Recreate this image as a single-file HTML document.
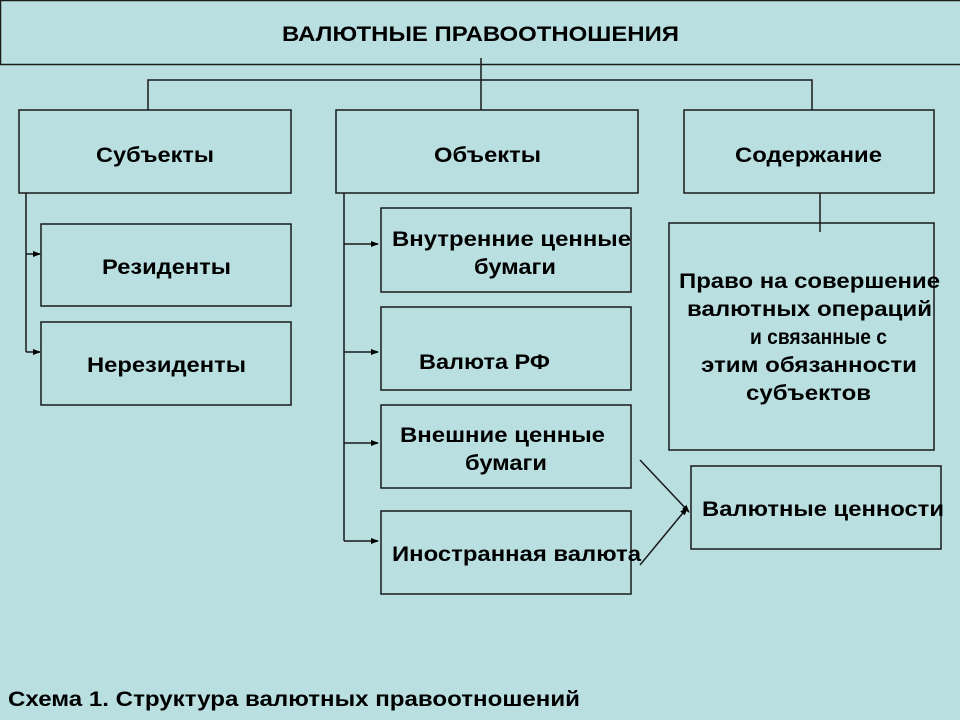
<!DOCTYPE html>
<html><head><meta charset="utf-8"><style>
html,body{margin:0;padding:0;background:#b9dfe0;}
svg{display:block}
text{font-family:"Liberation Sans",Arial,sans-serif;font-weight:bold;fill:#000;}
</style></head><body>
<svg width="960" height="720" viewBox="0 0 960 720" xmlns="http://www.w3.org/2000/svg">
<defs><marker id="a" markerWidth="8" markerHeight="8" refX="7" refY="4" orient="auto" markerUnits="userSpaceOnUse"><path d="M0,1 L8,4 L0,7 z" fill="#000"/></marker></defs>
<rect width="960" height="720" fill="#b9dfe0"/>
<g fill="none" stroke="#1a1a1a" stroke-width="1.5">
<rect x="0.5" y="0.5" width="962" height="64"/>
<path d="M481 58 V110 M148 110 V80 H812 V110"/>
<rect x="19" y="110" width="272" height="83"/>
<rect x="336" y="110" width="302" height="83"/>
<rect x="684" y="110" width="250" height="83"/>
<rect x="41" y="224" width="250" height="82"/>
<rect x="41" y="322" width="250" height="83"/>
<path d="M26 193 V352"/>
<path d="M26 254 H40" marker-end="url(#a)"/>
<path d="M26 352 H40" marker-end="url(#a)"/>
<path d="M344 193 V541"/>
<path d="M344 244 H378" marker-end="url(#a)"/>
<path d="M344 352 H378" marker-end="url(#a)"/>
<path d="M344 443 H378" marker-end="url(#a)"/>
<path d="M344 541 H378" marker-end="url(#a)"/>
<rect x="381" y="208" width="250" height="84"/>
<rect x="381" y="307" width="250" height="83"/>
<rect x="381" y="405" width="250" height="83"/>
<rect x="381" y="511" width="250" height="83"/>
<path d="M820 193 V232"/>
<rect x="669" y="223" width="265" height="227"/>
<rect x="691" y="466" width="250" height="83"/>
<path d="M640 460 L689 512" marker-end="url(#a)"/>
<path d="M640 565 L687 508" marker-end="url(#a)"/>
</g>
<g font-size="21" lengthAdjust="spacingAndGlyphs">
<text x="282" y="41" textLength="397" lengthAdjust="spacingAndGlyphs">ВАЛЮТНЫЕ ПРАВООТНОШЕНИЯ</text>
<text x="96" y="162" textLength="118" lengthAdjust="spacingAndGlyphs">Субъекты</text>
<text x="434" y="162" textLength="107" lengthAdjust="spacingAndGlyphs">Объекты</text>
<text x="735" y="162" textLength="147" lengthAdjust="spacingAndGlyphs">Содержание</text>
<text x="102" y="274" textLength="129" lengthAdjust="spacingAndGlyphs">Резиденты</text>
<text x="87" y="372" textLength="159" lengthAdjust="spacingAndGlyphs">Нерезиденты</text>
<text x="392" y="246" textLength="239" lengthAdjust="spacingAndGlyphs">Внутренние ценные</text>
<text x="474" y="274" textLength="82" lengthAdjust="spacingAndGlyphs">бумаги</text>
<text x="419" y="369" textLength="131" lengthAdjust="spacingAndGlyphs">Валюта РФ</text>
<text x="400" y="442" textLength="205" lengthAdjust="spacingAndGlyphs">Внешние ценные</text>
<text x="465" y="470" textLength="82" lengthAdjust="spacingAndGlyphs">бумаги</text>
<text x="392" y="561" textLength="249" lengthAdjust="spacingAndGlyphs">Иностранная валюта</text>
<text x="679" y="288" textLength="261" lengthAdjust="spacingAndGlyphs">Право на совершение</text>
<text x="687" y="316" textLength="245" lengthAdjust="spacingAndGlyphs">валютных операций</text>
<text x="750" y="344" textLength="137" lengthAdjust="spacingAndGlyphs">и связанные с</text>
<text x="701" y="372" textLength="216" lengthAdjust="spacingAndGlyphs">этим обязанности</text>
<text x="746" y="400" textLength="125" lengthAdjust="spacingAndGlyphs">субъектов</text>
<text x="702" y="516" textLength="242" lengthAdjust="spacingAndGlyphs">Валютные ценности</text>
<text x="8" y="706" textLength="572" lengthAdjust="spacingAndGlyphs">Схема 1. Структура валютных правоотношений</text>
</g>
</svg>
</body></html>
